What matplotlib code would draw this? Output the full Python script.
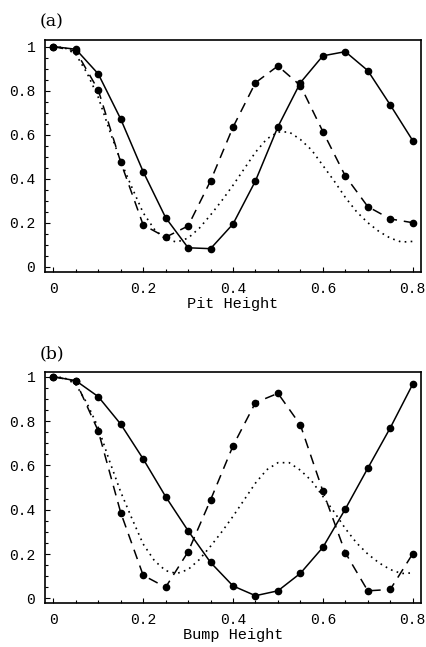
import matplotlib
matplotlib.use("Agg")
import matplotlib.pyplot as plt
from matplotlib.ticker import MultipleLocator, FixedLocator

# heights for the simulated points
h = [0.0, 0.05, 0.1, 0.15, 0.2, 0.25, 0.3, 0.35, 0.4, 0.45, 0.5, 0.55, 0.6, 0.65, 0.7, 0.75, 0.8]

# (a) pit
pit_solid = [1.0, 0.988, 0.876, 0.671, 0.432, 0.223, 0.086, 0.082, 0.194, 0.39, 0.636, 0.836, 0.958, 0.977, 0.891, 0.735, 0.573]
pit_dash = [1.0, 0.98, 0.803, 0.475, 0.19, 0.134, 0.185, 0.39, 0.634, 0.836, 0.912, 0.823, 0.614, 0.412, 0.273, 0.217, 0.2]

# (b) bump
bump_solid = [1.0, 0.982, 0.91, 0.786, 0.629, 0.459, 0.305, 0.162, 0.056, 0.012, 0.034, 0.113, 0.23, 0.403, 0.587, 0.769, 0.966]
bump_dash = [1.0, 0.98, 0.755, 0.387, 0.104, 0.05, 0.21, 0.444, 0.688, 0.883, 0.925, 0.782, 0.484, 0.206, 0.034, 0.04, 0.201]

# smooth theory curve (dotted)
ht = [0.0, 0.025, 0.05, 0.075, 0.1, 0.125, 0.15, 0.175, 0.2, 0.225, 0.25, 0.275, 0.3, 0.325, 0.35,
      0.375, 0.4, 0.425, 0.45, 0.475, 0.5, 0.525, 0.55, 0.575, 0.6, 0.625, 0.65, 0.675, 0.7,
      0.725, 0.75, 0.775, 0.8]
theory = [1.0, 0.995, 0.965, 0.88, 0.77, 0.62, 0.48, 0.36, 0.245, 0.17, 0.125, 0.112, 0.13, 0.175, 0.235,
          0.3, 0.37, 0.445, 0.52, 0.58, 0.612, 0.612, 0.578, 0.53, 0.46, 0.39, 0.315, 0.25, 0.2,
          0.16, 0.13, 0.112, 0.115]

xticks = [0, 0.2, 0.4, 0.6, 0.8]
xlabels = ["0", "0.2", "0.4", "0.6", "0.8"]
yticks = [0, 0.2, 0.4, 0.6, 0.8, 1]
ylabels = ["0", "0.2", "0.4", "0.6", "0.8", "1"]

mono = "Liberation Mono"
serif = "DejaVu Serif"

fig = plt.figure(figsize=(4.27, 6.47), dpi=100)
ax1 = fig.add_axes([0.1054, 0.5796, 0.8806, 0.3586])
ax2 = fig.add_axes([0.1054, 0.068, 0.8806, 0.357])


def draw(ax, solid, dash, ylim, xlabel, tag):
    ax.plot(ht, theory, color="black", lw=1.2, linestyle=(0, (1, 2.6)))
    ax.plot(h, dash, color="black", lw=1.1, dashes=(6.5, 4.5), marker="o", ms=4.5)
    ax.plot(h, solid, color="black", lw=1.1, marker="o", ms=4.5)
    ax.set_xlim(-0.0185, 0.8185)
    ax.set_ylim(*ylim)
    ax.xaxis.set_major_locator(FixedLocator(xticks))
    ax.set_xticklabels(xlabels, family=mono, fontsize=10.5)
    ax.yaxis.set_major_locator(FixedLocator(yticks))
    ax.set_yticklabels(ylabels, family=mono, fontsize=10.5)
    ax.xaxis.set_minor_locator(MultipleLocator(0.05))
    ax.yaxis.set_minor_locator(MultipleLocator(0.05))
    ax.tick_params(which="both", direction="in", top=False, right=False, width=0.8)
    ax.tick_params(which="major", length=3.5)
    ax.tick_params(which="minor", length=2)
    ax.tick_params(axis="x", pad=7)
    ax.tick_params(axis="y", pad=7)
    for s in ax.spines.values():
        s.set_linewidth(1.2)
    ax.set_xlabel(xlabel, family=mono, fontsize=11, labelpad=1)
    ax.text(-0.015, 1.08, tag, transform=ax.transAxes, family=serif, fontsize=12.5,
            ha="left", va="center")


draw(ax1, pit_solid, pit_dash, (-0.024, 1.03), "Pit Height", "(a)")
draw(ax2, bump_solid, bump_dash, (-0.021, 1.021), "Bump Height", "(b)")

fig.savefig("out.png", dpi=100)
